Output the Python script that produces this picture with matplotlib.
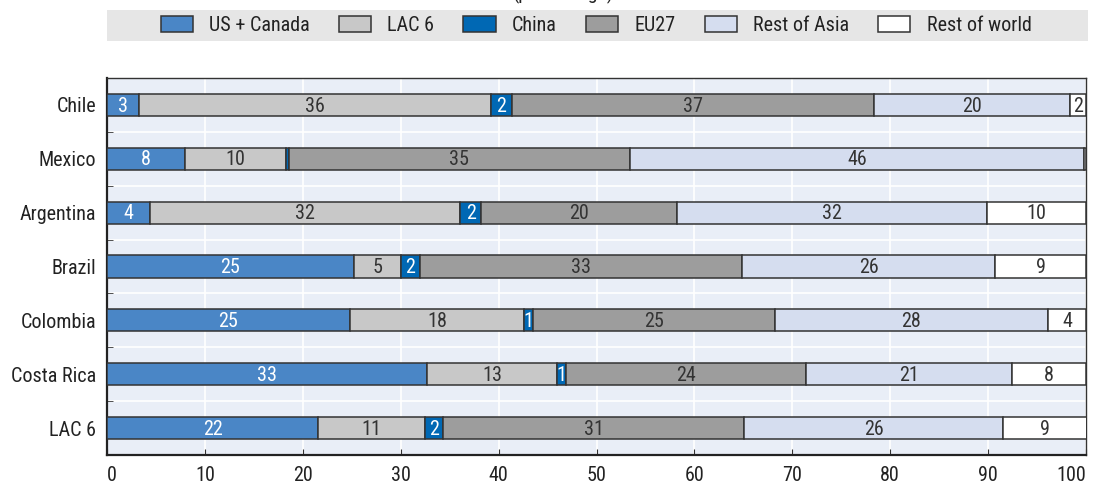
import matplotlib
matplotlib.use("Agg")
import matplotlib.pyplot as plt
from matplotlib.patches import Rectangle
import numpy as np

plt.rcParams['font.family'] = ['Liberation Sans Narrow', 'Roboto Condensed', 'Liberation Sans', 'DejaVu Sans']

countries = ["Chile", "Mexico", "Argentina", "Brazil", "Colombia", "Costa Rica", "LAC 6"]
series_names = ["US + Canada", "LAC 6", "China", "EU27", "Rest of Asia", "Rest of world"]
us_canada = [3.3, 8.0, 4.4, 25.2, 24.8, 32.7, 21.6]
lac6 = [35.9, 10.3, 31.7, 4.8, 17.8, 13.3, 10.9]
china = [2.2, 0.3, 2.1, 2.0, 0.9, 0.9, 1.8]
eu27 = [36.9, 34.8, 20.0, 32.9, 24.7, 24.5, 30.8]
rest_asia = [20.1, 46.4, 31.7, 25.8, 27.9, 21.0, 26.4]
rest_world = [1.6, 0.2, 10.1, 9.3, 3.9, 7.6, 8.6]
series = [us_canada, lac6, china, eu27, rest_asia, rest_world]

colors = ["#4a86c6", "#c8c8c8", "#0068b4", "#9d9d9d", "#d5ddef", "#ffffff"]
text_colors = ["white", "#333333", "white", "#333333", "#333333", "#333333"]
ticks = [0, 10, 20, 30, 40, 50, 60, 70, 80, 90, 100]

FS = 14.5

fig = plt.figure(figsize=(10.93, 4.84), dpi=100)
ax = fig.add_axes([107/1093, 1-455/484, (1086-107)/1093, (455-78)/484])
ax.set_facecolor("#e9eef7")

y = np.arange(len(countries))
left = np.zeros(len(countries))
for name, vals, c, tc in zip(series_names, series, colors, text_colors):
    vals = np.array(vals)
    ax.barh(y, vals, left=left, height=0.41, color=c, edgecolor="#333333",
            linewidth=1.1, label=name, zorder=3)
    for yi, l, v in zip(y, left, vals):
        if v >= 0.5:
            ax.text(l + v/2, yi + 0.02, f"{round(v):d}", ha="center", va="center",
                    color=tc, fontsize=FS, zorder=4)
    left = left + vals

ax.set_xlim(0, 100)
ax.set_ylim(len(countries) - 0.5, -0.5)
ax.set_yticks(y)
ax.set_yticklabels(countries)
ax.set_yticks(np.arange(len(countries) - 1) + 0.5, minor=True)
ax.set_xticks(ticks)
ax.set_xticklabels([str(t) for t in ticks])
ax.grid(axis="x", which="major", color="white", linewidth=1.2, zorder=1)
ax.grid(axis="y", which="minor", color="white", linewidth=1.2, zorder=1)
ax.tick_params(axis="y", which="major", length=0, pad=8, labelsize=FS, labelcolor="#222222")
ax.tick_params(axis="y", which="minor", length=4, direction="in", color="#333333")
ax.tick_params(axis="x", which="major", length=4, direction="in", pad=8, labelsize=FS,
               labelcolor="#222222", color="#333333")
xl = ax.get_xticklabels()
xl[-1].set_horizontalalignment("right")
xl[0].set_horizontalalignment("left")
for s in ["top", "right"]:
    ax.spines[s].set_color("#333333")
    ax.spines[s].set_linewidth(1.0)
for s in ["left", "bottom"]:
    ax.spines[s].set_color("#222222")
    ax.spines[s].set_linewidth(1.6)
ax.set_axisbelow(True)

# legend background band
fig.patches.append(Rectangle((107/1093, 1-41/484), (1088-107)/1093, 31/484,
                             transform=fig.transFigure, facecolor="#e6e6e6",
                             edgecolor="none", zorder=0))
handles, labels = ax.get_legend_handles_labels()
leg = fig.legend(handles, labels, loc="center", bbox_to_anchor=(596/1093, 1-25.5/484),
                 ncol=6, frameon=False, fontsize=FS, handlelength=1.6, handleheight=0.8,
                 handletextpad=0.8, columnspacing=1.45)
for t in leg.get_texts():
    t.set_color("#222222")

fig.text(563/1093, 1 + 1/484, "(percentage)", ha="center", va="baseline", fontsize=FS,
         color="#222222")

fig.savefig("out.png", dpi=100)
